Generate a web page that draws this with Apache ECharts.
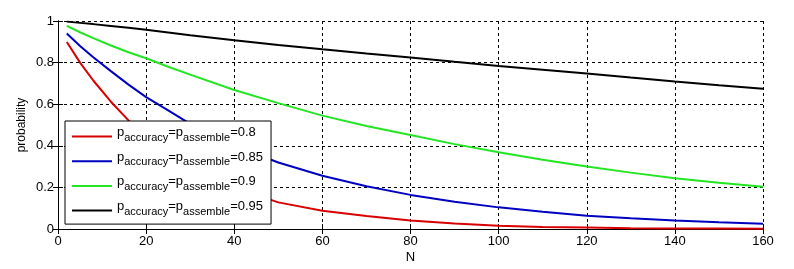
<!DOCTYPE html>
<html>
<head>
<meta charset="utf-8">
<script src="https://cdn.jsdelivr.net/npm/echarts@6/dist/echarts.min.js"></script>
<style>html,body{margin:0;padding:0;background:#fff;}#c{width:794px;height:269px;}</style>
</head>
<body>
<div id="c"></div>
<script>
var N = [2,5,8,12,16,20,25,30,40,50,60,70,80,90,100,110,120,130,140,150,160];
var red   = [0.899,0.800,0.714,0.612,0.522,0.445,0.370,0.298,0.200,0.128,0.088,0.062,0.041,0.026,0.016,0.010,0.007,0.004,0.003,0.002,0.001];
var blue  = [0.940,0.880,0.826,0.759,0.694,0.634,0.570,0.505,0.400,0.320,0.256,0.206,0.164,0.131,0.104,0.083,0.064,0.052,0.041,0.032,0.025];
var green = [0.977,0.946,0.918,0.882,0.850,0.821,0.780,0.742,0.668,0.605,0.545,0.495,0.452,0.408,0.369,0.333,0.300,0.271,0.244,0.222,0.203];
var black = [0.997,0.991,0.985,0.976,0.967,0.958,0.945,0.932,0.908,0.885,0.864,0.844,0.825,0.804,0.784,0.766,0.748,0.728,0.709,0.691,0.674];
var labels = ['0.8','0.85','0.9','0.95'];
var colors = ['#d80000','#0000c0','#22e622','#000000'];
var seriesVals = [red, blue, green, black];

function pairs(vals){ return N.map(function(n,i){ return [n, vals[i]]; }); }
var FONT = "'Liberation Sans', Arial, sans-serif";

var chart = echarts.init(document.getElementById('c'), null, {renderer:'canvas'});
var series = seriesVals.map(function(v, i){
  return {
    name: labels[i], type: 'line', data: pairs(v), showSymbol: false, symbol: 'none',
    lineStyle: {color: colors[i], width: 2}, itemStyle: {color: colors[i]},
    animation: false, z: 3
  };
});
var axisLine = {show: true, lineStyle: {color: '#000', width: 1}};
var axisTick = {show: true, inside: true, length: 5, lineStyle: {color: '#000'}};
chart.setOption({
  animation: false,
  backgroundColor: '#fff',
  textStyle: {fontFamily: FONT},
  grid: {left: 58, right: 31, top: 21, bottom: 40, containLabel: false},
  xAxis: [{
    type: 'value', min: 0, max: 160, interval: 20, position: 'bottom',
    axisLine: axisLine, axisTick: axisTick,
    axisLabel: {color: '#000', fontSize: 13, margin: 6, fontFamily: FONT},
    splitLine: {show: true, lineStyle: {color: '#000', width: 1, type: [3,3]}},
    name: 'N', nameLocation: 'middle', nameGap: 22, nameMoveOverlap: false,
    nameTextStyle: {color: '#000', fontSize: 13, fontFamily: FONT}
  },{
    type: 'value', min: 0, max: 160, interval: 20, position: 'top',
    axisLine: axisLine, axisTick: axisTick,
    axisLabel: {show: false}, splitLine: {show: false}
  }],
  yAxis: [{
    type: 'value', min: 0, max: 1, interval: 0.2, position: 'left',
    axisLine: axisLine, axisTick: axisTick,
    axisLabel: {color: '#000', fontSize: 13, margin: 4, fontFamily: FONT},
    splitLine: {show: true, lineStyle: {color: '#000', width: 1, type: [3,3]}},
    name: 'probability', nameLocation: 'middle', nameGap: 30, nameMoveOverlap: false,
    nameTextStyle: {color: '#000', fontSize: 12, fontFamily: FONT}
  },{
    type: 'value', min: 0, max: 1, interval: 0.2, position: 'right',
    axisLine: axisLine, axisTick: axisTick,
    axisLabel: {show: false}, splitLine: {show: false}
  }],
  legend: {
    show: true, orient: 'vertical', left: 65, top: 121,
    data: labels.map(function(l){ return {name: l, icon: 'rect'}; }),
    itemWidth: 40, itemHeight: 2, itemGap: 6.7,
    padding: [4, 8, 7, 7],
    backgroundColor: '#fff', borderColor: '#000', borderWidth: 1, borderRadius: 0,
    selectedMode: false, z: 10,
    formatter: function(name){
      return '{m|p}{s|accuracy}{m|=p}{s|assemble}{m|=' + name + '}';
    },
    textStyle: {
      color: '#000', fontFamily: FONT,
      rich: {
        m: {fontSize: 13, lineHeight: 13, padding: [1,0,4,0], verticalAlign: 'bottom', color: '#000', fontFamily: FONT},
        s: {fontSize: 11, lineHeight: 11, verticalAlign: 'bottom', color: '#000', fontFamily: FONT}
      }
    }
  },
  series: series
});
</script>
</body>
</html>
